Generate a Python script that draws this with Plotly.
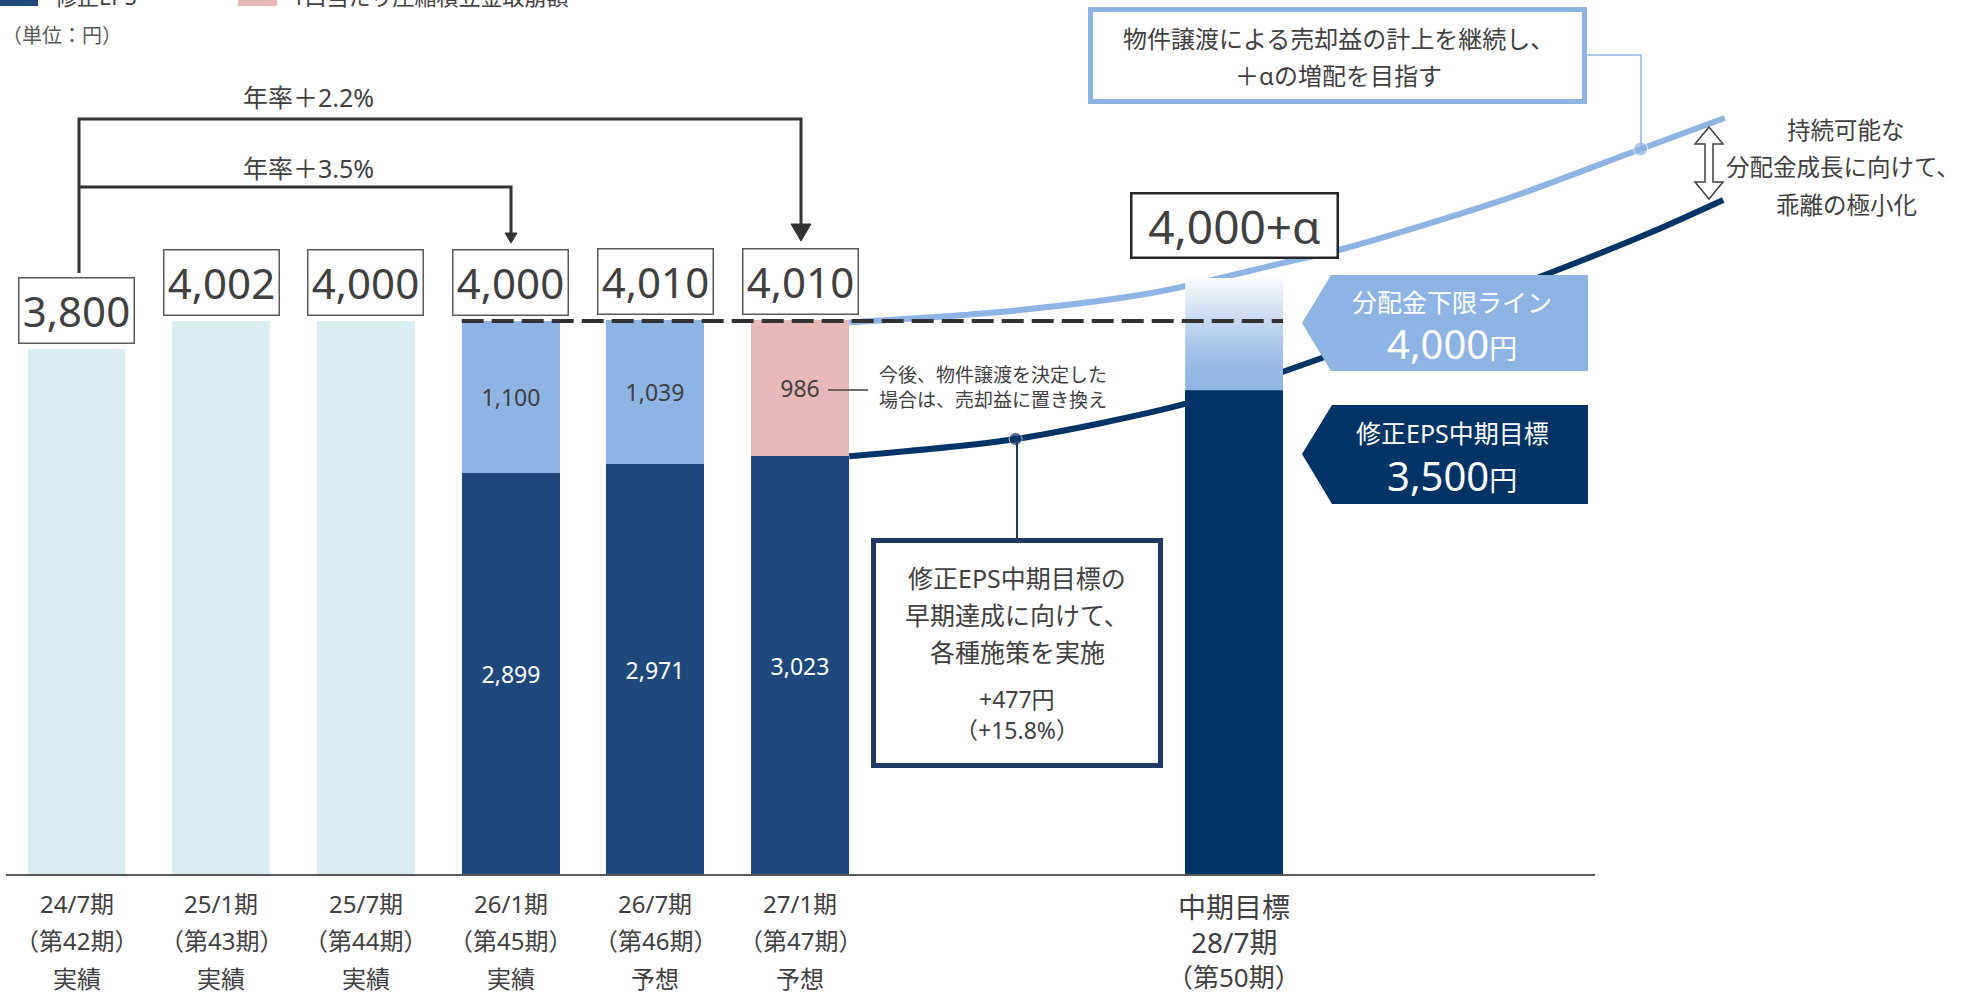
import plotly.graph_objects as go

# ---------------- data (円 per unit) ----------------
period_names = ["24/7期", "25/1期", "25/7期", "26/1期", "26/7期", "27/1期"]
period_numbers = ["（第42期）", "（第43期）", "（第44期）", "（第45期）", "（第46期）", "（第47期）"]
period_status = ["実績", "実績", "実績", "実績", "予想", "予想"]

distribution = [3800, 4002, 4000, 4000, 4010, 4010]          # 1口当たり分配金
adjusted_eps = [None, None, None, 2899, 2971, 3023]           # 修正EPS
reserve_reversal = [None, None, None, 1100, 1039, None]       # 圧縮積立金取崩額
reserve_pending = [None, None, None, None, None, 986]         # 売却益に置き換え予定分

target_name = ["中期目標", "28/7期", "（第50期）"]
target_slot = 8
target_eps = 3500
distribution_floor = 4000
target_upside_top = 4310

# growth paths toward the mid-term plan (x in period slots, y in 円)
dist_path_x = [5.34, 6.38, 7.42, 8.34, 8.75, 9.86, 10.81, 11.39]
dist_path_y = [3990, 4065, 4200, 4420, 4520, 4874, 5242, 5466]
dist_path_dot = 6
eps_path_x = [5.34, 6.49, 7.66, 8.47, 10.20, 10.87, 11.38]
eps_path_y = [3023, 3148, 3401, 3682, 4354, 4635, 4874]
eps_path_dot = 1

# ---------------- styling ----------------
W, H = 1966, 1001
FONT = "Noto Sans, Noto Sans CJK JP, sans-serif"
TEXT = "#404040"
LIGHT_BAR = "#DAEDF3"
NAVY = "#1F497D"
DEEP_NAVY = "#003366"
BOX_NAVY = "#1F3864"
SKY = "#8EB4E3"
PINK = "#E6B9B8"
BW = 0.676

# canvas mapping: slot 0 centred at 76.5px, 144.7px per slot; baseline at 875px, 0.1385px per 円
X0, DX = 76.5, 144.7
BASE, KY = 875, 0.1385
XR = [-X0 / DX, (W - X0) / DX]
YR = [-(H - BASE) / KY, BASE / KY]


def fx(p):
    return p / W


def fy(p):
    return 1 - p / H


def poly(points, close=True):
    s = "M " + " L ".join(f"{fx(a):.5f},{fy(b):.5f}" for a, b in points)
    return s + (" Z" if close else "")


def label(text, x, y, size, color=TEXT, xanchor="center", **kw):
    return dict(text=text, x=fx(x), y=fy(y), xref="paper", yref="paper",
                showarrow=False, xanchor=xanchor, yanchor="middle",
                font=dict(size=size, color=color, family=FONT), **kw)


fig = go.Figure()

# ---- growth paths (drawn beneath the bars) ----
fig.add_trace(go.Scatter(
    x=dist_path_x, y=dist_path_y, mode="lines+markers",
    line=dict(color=SKY, width=6, shape="spline", smoothing=0.8),
    marker=dict(size=[14 if i == dist_path_dot else 0 for i in range(len(dist_path_x))], color=SKY),
    hoverinfo="skip", showlegend=False))
fig.add_trace(go.Scatter(
    x=eps_path_x, y=eps_path_y, mode="lines+markers",
    line=dict(color=DEEP_NAVY, width=6, shape="spline", smoothing=0.8),
    marker=dict(size=[13 if i == eps_path_dot else 0 for i in range(len(eps_path_x))], color=DEEP_NAVY),
    hoverinfo="skip", showlegend=False))

# ---- bars (overlaid axes so they sit above the paths) ----
idx_plain = [i for i, e in enumerate(adjusted_eps) if e is None]
idx_eps = [i for i, e in enumerate(adjusted_eps) if e is not None]
idx_rev = [i for i, r in enumerate(reserve_reversal) if r is not None]
idx_pend = [i for i, r in enumerate(reserve_pending) if r is not None]

common = dict(xaxis="x2", yaxis="y2", width=BW, hoverinfo="skip", showlegend=False,
              textposition="inside", insidetextanchor="middle", textangle=0,
              constraintext="none")

fig.add_trace(go.Bar(x=idx_plain, y=[distribution[i] for i in idx_plain],
                     marker=dict(color=LIGHT_BAR, line_width=0), **common))
fig.add_trace(go.Bar(x=idx_eps, y=[adjusted_eps[i] for i in idx_eps],
                     text=[f"{adjusted_eps[i]:,}" for i in idx_eps],
                     textfont=dict(size=23, color="white", family=FONT),
                     marker=dict(color=NAVY, line_width=0), **common))
fig.add_trace(go.Bar(x=idx_rev, y=[reserve_reversal[i] for i in idx_rev],
                     base=[adjusted_eps[i] for i in idx_rev],
                     text=[f"{reserve_reversal[i]:,}" for i in idx_rev],
                     textfont=dict(size=23, color=TEXT, family=FONT),
                     marker=dict(color=SKY, line_width=0), **common))
fig.add_trace(go.Bar(x=idx_pend, y=[reserve_pending[i] for i in idx_pend],
                     base=[adjusted_eps[i] for i in idx_pend],
                     text=[f"{reserve_pending[i]:,}" for i in idx_pend],
                     textfont=dict(size=23, color=TEXT, family=FONT),
                     marker=dict(color=PINK, line_width=0), **common))
fig.add_trace(go.Bar(x=[target_slot], y=[target_eps],
                     marker=dict(color=DEEP_NAVY, line_width=0), **common))

# "+α" zone above the EPS target, fading out upward
gx0, gx1 = target_slot - BW / 2, target_slot + BW / 2
fig.add_trace(go.Scatter(
    x=[gx0, gx1, gx1, gx0, gx0],
    y=[target_eps, target_eps, target_upside_top, target_upside_top, target_eps],
    xaxis="x2", yaxis="y2", mode="lines", line=dict(width=0),
    fill="toself",
    fillgradient=dict(type="vertical", start=target_eps, stop=target_upside_top,
                      colorscale=[[0, SKY], [0.3, "#9DBEE7"], [0.7, "#D2E0F2"], [1, "#F8FAFD"]]),
    hoverinfo="skip", showlegend=False))

shapes = []
annotations = []

# baseline
shapes.append(dict(type="line", xref="x", yref="y", x0=(6 - X0) / DX, x1=(1595 - X0) / DX,
                   y0=0, y1=0, line=dict(color="#595959", width=2)))

# distribution floor (dashed)
shapes.append(dict(type="line", xref="x", yref="y", x0=idx_eps[0] - BW / 2, x1=target_slot + BW / 2,
                   y0=distribution_floor, y1=distribution_floor, layer="above",
                   line=dict(color="#333333", width=4, dash="22px,8px")))

# value boxes above each period
for i, v in enumerate(distribution):
    annotations.append(dict(x=i, y=v, xref="x", yref="y", yanchor="bottom", yshift=5,
                            text=f"{v:,}", showarrow=False, width=114, height=64,
                            bordercolor="#595959", borderwidth=1.5, borderpad=0, bgcolor="white",
                            font=dict(size=42, color=TEXT, family=FONT)))
annotations.append(dict(x=target_slot, y=fy(225), xref="x", yref="paper", yanchor="middle",
                        text=f"{distribution_floor:,}+α", showarrow=False, width=204, height=62,
                        bordercolor="#262626", borderwidth=2.5, borderpad=0, bgcolor="white",
                        font=dict(size=46, color=TEXT, family=FONT)))

# growth brackets
g_long = (distribution[5] / distribution[0]) ** (1 / 2.5) - 1
g_short = (distribution[3] / distribution[0]) ** (1 / 1.5) - 1
shapes.append(dict(type="path", xref="paper", yref="paper", layer="above",
                   path=poly([(79, 273), (79, 119), (801, 119), (801, 226)], close=False),
                   line=dict(color="#333333", width=3)))
shapes.append(dict(type="path", xref="paper", yref="paper", layer="above",
                   path=poly([(791, 224), (811, 224), (801, 241)]),
                   fillcolor="#333333", line=dict(color="#333333", width=1)))
shapes.append(dict(type="path", xref="paper", yref="paper", layer="above",
                   path=poly([(79, 187), (511, 187), (511, 234)], close=False),
                   line=dict(color="#333333", width=3)))
shapes.append(dict(type="path", xref="paper", yref="paper", layer="above",
                   path=poly([(505, 233), (517, 233), (511, 243)]),
                   fillcolor="#333333", line=dict(color="#333333", width=1)))
annotations.append(label(f"年率＋{g_long * 100:.1f}%", 308, 97, 25))
annotations.append(label(f"年率＋{g_short * 100:.1f}%", 308, 168, 25))

# note on the pending amount
shapes.append(dict(type="line", xref="paper", yref="paper", x0=fx(828), x1=fx(868), y0=fy(390), y1=fy(390),
                   line=dict(color=TEXT, width=1.5)))
annotations.append(label("今後、物件譲渡を決定した<br>場合は、売却益に置き換え", 877, 387, 19, xanchor="left",
                         align="left"))

# upper callout (distribution path)
shapes.append(dict(type="rect", xref="paper", yref="paper", x0=fx(1090.5), x1=fx(1584.5),
                   y0=fy(9.5), y1=fy(101.5), fillcolor="white", line=dict(color=SKY, width=5)))
shapes.append(dict(type="path", xref="paper", yref="paper",
                   path=poly([(1587, 55), (1641, 55), (1641, 149)], close=False),
                   line=dict(color=SKY, width=1.5)))
annotations.append(label("物件譲渡による売却益の計上を継続し、", 1338, 38, 24))
annotations.append(label("＋αの増配を目指す", 1338, 75, 24))

# lower callout (EPS path)
gap = target_eps - adjusted_eps[5]
shapes.append(dict(type="line", xref="paper", yref="paper", x0=fx(1017), x1=fx(1017), y0=fy(439), y1=fy(538),
                   line=dict(color=BOX_NAVY, width=2)))
shapes.append(dict(type="rect", xref="paper", yref="paper", x0=fx(873.5), x1=fx(1160.5),
                   y0=fy(540.5), y1=fy(765.5), fillcolor="white", line=dict(color=BOX_NAVY, width=5)))
annotations.append(label("修正EPS中期目標の", 1017, 578, 25))
annotations.append(label("早期達成に向けて、", 1017, 615, 25))
annotations.append(label("各種施策を実施", 1017, 652, 25))
annotations.append(label(f"+{gap:,}円", 1017, 699, 23))
annotations.append(label(f"（+{gap / adjusted_eps[5] * 100:.1f}%）", 1017, 730, 23))

# pointer labels on the right of the target bar
shapes.append(dict(type="path", xref="paper", yref="paper", layer="above",
                   path=poly([(1302, 323), (1331, 275), (1588, 275), (1588, 371), (1331, 371)]),
                   fillcolor=SKY, line=dict(width=0)))
shapes.append(dict(type="path", xref="paper", yref="paper", layer="above",
                   path=poly([(1302, 454), (1332, 405), (1588, 405), (1588, 504), (1332, 504)]),
                   fillcolor=DEEP_NAVY, line=dict(width=0)))
annotations.append(label("分配金下限ライン", 1452, 302, 25, color="white"))
annotations.append(label(f"{distribution_floor:,}<span style='font-size:28px'>円</span>", 1452, 343, 40,
                         color="white"))
annotations.append(label("修正EPS中期目標", 1452, 433, 25, color="white"))
annotations.append(label(f"{target_eps:,}<span style='font-size:28px'>円</span>", 1452, 475, 40,
                         color="white"))

# gap arrow between the two paths
shapes.append(dict(type="path", xref="paper", yref="paper", layer="above",
                   path=poly([(1709, 127), (1723, 144), (1713, 144), (1713, 182), (1723, 182), (1709, 199),
                              (1695, 182), (1705, 182), (1705, 144), (1695, 144)]),
                   fillcolor="white", line=dict(color=TEXT, width=1.5)))
annotations.append(label("持続可能な", 1846, 130, 23.5))
annotations.append(label("分配金成長に向けて、", 1843, 167, 23.5))
annotations.append(label("乖離の極小化", 1846, 205, 23.5))

# period labels
for i in range(len(period_names)):
    xc = X0 + i * DX
    annotations.append(label(period_names[i], xc, 903, 24))
    annotations.append(label(period_numbers[i], xc, 940, 24))
    annotations.append(label(period_status[i], xc, 978, 24))
xt = X0 + target_slot * DX
annotations.append(label(target_name[0], xt, 907, 28))
annotations.append(label(target_name[1], xt, 942, 28))
annotations.append(label(target_name[2], xt, 977, 26))

# legend (partly above the canvas) and unit
shapes.append(dict(type="rect", xref="paper", yref="paper", x0=fx(0), x1=fx(38), y0=fy(-14), y1=fy(6),
                   fillcolor=NAVY, line=dict(width=0)))
shapes.append(dict(type="rect", xref="paper", yref="paper", x0=fx(238), x1=fx(277), y0=fy(-14), y1=fy(6),
                   fillcolor=PINK, line=dict(width=0)))
annotations.append(label("修正EPS", 53, -4, 22, xanchor="left"))
annotations.append(label("1口当たり圧縮積立金取崩額", 290, -4, 22, xanchor="left"))
annotations.append(label("（単位：円）", 0, 35, 20, color="#595959", xanchor="left"))

axis_off = dict(visible=False, showgrid=False, zeroline=False, fixedrange=True)
fig.update_layout(
    width=W, height=H,
    margin=dict(l=0, r=0, t=0, b=0, pad=0),
    paper_bgcolor="white", plot_bgcolor="white",
    barmode="overlay", bargap=0,
    showlegend=False,
    font=dict(family=FONT, color=TEXT),
    xaxis=dict(range=XR, **axis_off),
    yaxis=dict(range=YR, **axis_off),
    xaxis2=dict(range=XR, overlaying="x", **axis_off),
    yaxis2=dict(range=YR, overlaying="y", **axis_off),
    shapes=shapes,
    annotations=annotations,
)

fig.write_html("out.html")
